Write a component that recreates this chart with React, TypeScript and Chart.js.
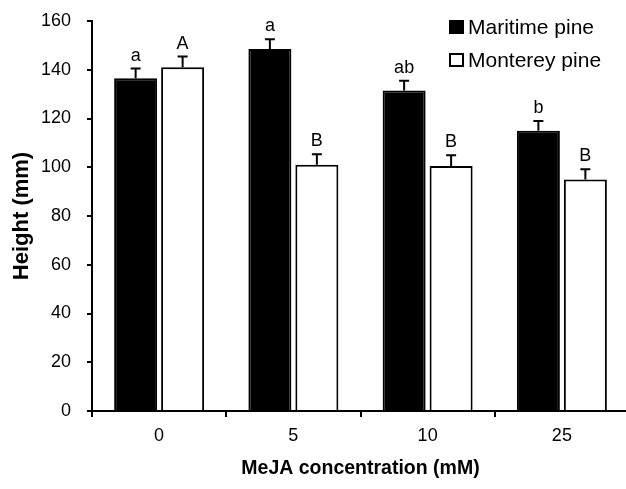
import React, { useEffect, useRef } from "react";
import { Chart, registerables } from "chart.js";

Chart.register(...registerables);

const categories = ["0", "5", "10", "25"];
const maritime = [136.5, 148.5, 131.5, 115];
const maritimeErr = [4, 4, 4, 4];
const monterey = [141, 101, 100.5, 95];
const montereyErr = [4.4, 4.3, 4.4, 4.2];
const maritimeLetters = ["a", "a", "ab", "b"];
const montereyLetters = ["A", "B", "B", "B"];
const seriesNames = ["Maritime pine", "Monterey pine"];
const yTicks = [0, 20, 40, 60, 80, 100, 120, 140, 160];

const FONT = "'Liberation Sans', Arial, Helvetica, sans-serif";

const errorPlugin = {
  id: "errorBarsLetters",
  afterDatasetsDraw(chart: any) {
    const ctx = chart.ctx;
    const y = chart.scales.y;
    const errs = [maritimeErr, montereyErr];
    const letters = [maritimeLetters, montereyLetters];
    ctx.save();
    chart.data.datasets.forEach((ds: any, di: number) => {
      const meta = chart.getDatasetMeta(di);
      meta.data.forEach((bar: any, i: number) => {
        const v = ds.data[i];
        const top = y.getPixelForValue(v);
        const cap = y.getPixelForValue(v + errs[di][i]);
        const x = bar.x;
        ctx.strokeStyle = "#000";
        ctx.lineWidth = 2;
        ctx.beginPath();
        ctx.moveTo(x, top);
        ctx.lineTo(x, cap);
        ctx.moveTo(x - 5, cap);
        ctx.lineTo(x + 5, cap);
        ctx.stroke();
        ctx.fillStyle = "#000";
        ctx.font = `18px ${FONT}`;
        ctx.textAlign = "center";
        ctx.textBaseline = "alphabetic";
        ctx.fillText(letters[di][i], x, cap - 8);
      });
    });
    // legend
    const lx = 449;
    const rows = [27, 60];
    ctx.font = `21px ${FONT}`;
    ctx.textAlign = "left";
    ctx.textBaseline = "middle";
    rows.forEach((ry, k) => {
      if (k === 0) {
        ctx.fillStyle = "#000";
        ctx.fillRect(lx, ry - 7, 15, 14);
      } else {
        ctx.fillStyle = "#fff";
        ctx.fillRect(lx, ry - 7, 15, 14);
        ctx.strokeStyle = "#000";
        ctx.lineWidth = 2;
        ctx.strokeRect(lx + 1, ry - 6, 13, 12);
      }
      ctx.fillStyle = "#000";
      ctx.fillText(seriesNames[k], lx + 19, ry + 1);
    });
    ctx.restore();
  },
};

export default function App() {
  const ref = useRef<HTMLCanvasElement>(null);
  useEffect(() => {
    if (!ref.current) return;
    const chart = new Chart(ref.current, {
      type: "bar",
      data: {
        labels: categories,
        datasets: [
          {
            label: seriesNames[0],
            data: maritime,
            backgroundColor: "#000",
            borderColor: "#000",
            borderWidth: 2,
            categoryPercentage: 0.7,
            barPercentage: 0.915,
          },
          {
            label: seriesNames[1],
            data: monterey,
            backgroundColor: "#fff",
            borderColor: "#000",
            borderWidth: 2,
            categoryPercentage: 0.7,
            barPercentage: 0.915,
          },
        ],
      },
      options: {
        animation: false,
        responsive: false,
        devicePixelRatio: 1,
        layout: { padding: { top: 21, right: 11, left: 0, bottom: 0 } },
        plugins: {
          legend: { display: false },
          tooltip: { enabled: false },
        },
        scales: {
          x: {
            grid: {
              offset: true,
              drawOnChartArea: false,
              drawTicks: true,
              tickLength: 6,
              color: "#000",
              lineWidth: 2,
            },
            border: { color: "#000", width: 2 },
            ticks: {
              color: "#000",
              font: { family: FONT, size: 18 },
              padding: 8,
            },
            title: {
              display: true,
              text: "MeJA concentration (mM)",
              color: "#000",
              font: { family: FONT, size: 19.5, weight: "bold" },
              padding: { top: 0, bottom: 9 },
            },
            afterFit(scale: any) {
              scale.height = 78;
              scale.paddingLeft = 0;
              scale.paddingRight = 0;
            },
          },
          y: {
            min: 0,
            max: 160,
            afterBuildTicks(scale: any) {
              scale.ticks = yTicks.map((v) => ({ value: v }));
            },
            grid: {
              drawOnChartArea: false,
              drawTicks: true,
              tickLength: 5,
              color: "#000",
              lineWidth: 2,
            },
            border: { color: "#000", width: 2 },
            ticks: {
              color: "#000",
              font: { family: FONT, size: 18 },
              padding: 16,
            },
            title: {
              display: true,
              text: "Height (mm)",
              color: "#000",
              font: { family: FONT, size: 22, weight: "bold" },
              padding: { top: 9, bottom: 0 },
            },
            afterFit(scale: any) {
              scale.width = 92;
              scale.paddingTop = 0;
              scale.paddingBottom = 0;
            },
          },
        },
      },
      plugins: [errorPlugin],
    });
    return () => chart.destroy();
  }, []);
  return (
    <div
      style={{
        position: "fixed",
        left: 0,
        top: 0,
        width: 626,
        height: 489,
        overflow: "hidden",
        background: "#fff",
      }}
    >
      <canvas ref={ref} width={640} height={489} style={{ width: 640, height: 489, display: "block" }} />
    </div>
  );
}
